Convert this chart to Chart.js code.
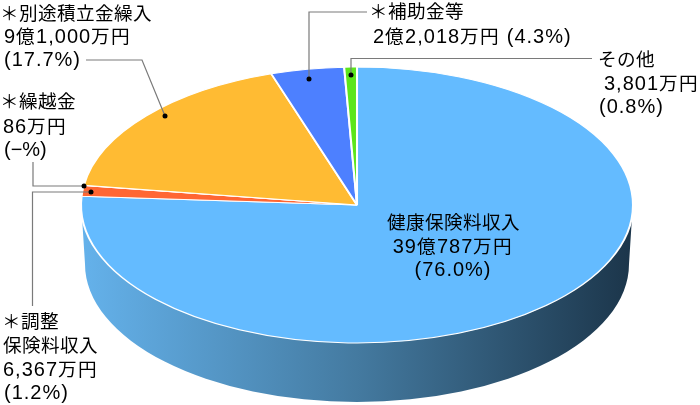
<!DOCTYPE html>
<html lang="ja">
<head>
<meta charset="utf-8">
<title>収入内訳</title>
<style>
  /* CJK fallback scaled down so kana/kanji sit at about 18.6px beside 20px digits */
  @font-face {
    font-family: "JPLabel";
    src: local("Noto Sans CJK JP"), local("Noto Sans CJK JP Regular");
    size-adjust: 93%;
  }
  html, body { margin: 0; padding: 0; background: #fff; }
  canvas { display: block; }
</style>
</head>
<body>
<canvas id="pie" width="700" height="405"></canvas>
<script src="https://cdn.jsdelivr.net/npm/chart.js@4/dist/chart.umd.min.js"></script>
<script>
"use strict";

// amounts in 万円, clockwise from 12 o'clock
const categories = ["健康保険料収入", "調整保険料収入", "繰越金", "別途積立金繰入", "補助金等", "その他"];
const amounts = [390787, 6367, 86, 91000, 22018, 3801];
const sliceColors = ["#64bbff", "#ff6633", "#ffbb33", "#ffbb33", "#4d80ff", "#5ce61a"];

const labelHealth = ["健康保険料収入", "39億787万円", "(76.0%)"];
const labelAdjust = ["＊調整", "保険料収入", "6,367万円", "(1.2%)"];
const labelCarry = ["＊繰越金", "86万円", "(−%)"];
const labelReserve = ["＊別途積立金繰入", "9億1,000万円", "(17.7%)"];
const labelSubsidy = ["＊補助金等", "2億2,018万円 (4.3%)"];
const labelOther = ["その他", "3,801万円", "(0.8%)"];

// projected pie geometry
const TOP = { x: 357, y: 205, rx: 276, ry: 138 };
const BASE = { x: 357, y: 264, rx: 272, ry: 138 };
const FONT = '20px "Liberation Sans", "JPLabel", "Noto Sans CJK JP", sans-serif';

const tiltPlugin = {
  id: "tilt",
  beforeDatasetsDraw(chart) {
    const ctx = chart.ctx;
    const arc = chart.getDatasetMeta(0).data[0];

    // side wall, everything behind the top face gets covered by it
    const grad = ctx.createLinearGradient(BASE.x - BASE.rx, 0, BASE.x + BASE.rx, 0);
    grad.addColorStop(0, "#64b1ea");
    grad.addColorStop(0.5, "#447aa0");
    grad.addColorStop(1, "#1c364b");
    ctx.save();
    ctx.fillStyle = grad;
    ctx.beginPath();
    ctx.moveTo(TOP.x - TOP.rx + 1, TOP.y + 12);
    ctx.lineTo(BASE.x - BASE.rx, BASE.y);
    ctx.ellipse(BASE.x, BASE.y, BASE.rx, BASE.ry, 0, Math.PI, 0, true);
    ctx.lineTo(TOP.x + TOP.rx - 1, TOP.y + 12);
    ctx.closePath();
    ctx.fill();
    ctx.restore();

    // squash the library's round pie into the top face
    ctx.save();
    ctx.translate(TOP.x, TOP.y);
    ctx.scale(TOP.rx / arc.outerRadius, TOP.ry / arc.outerRadius);
    ctx.translate(-arc.x, -arc.y);
  },
  afterDatasetsDraw(chart) {
    const ctx = chart.ctx;
    ctx.restore();

    const leaders = [
      [[86, 60], [142, 60], [165, 116]],
      [[33, 162], [33, 186], [84, 186]],
      [[32.5, 306], [32.5, 192], [91, 192]],
      [[367, 12], [309, 12], [309, 79]],
      [[592, 58.5], [351, 58.5], [351, 75]],
    ];
    ctx.save();
    ctx.strokeStyle = "#7a7a7a";
    ctx.lineWidth = 1.2;
    ctx.fillStyle = "#000";
    leaders.forEach((pts) => {
      ctx.beginPath();
      pts.forEach((p, i) => (i ? ctx.lineTo(p[0], p[1]) : ctx.moveTo(p[0], p[1])));
      ctx.stroke();
      const end = pts[pts.length - 1];
      ctx.beginPath();
      ctx.arc(end[0], end[1], 2.5, 0, Math.PI * 2);
      ctx.fill();
    });

    ctx.font = FONT;
    ctx.fillStyle = "#000";
    ctx.textBaseline = "alphabetic";
    const put = (lines, xs, ys, align) => {
      ctx.textAlign = align || "left";
      lines.forEach((t, i) => {
        // reference digits run wider than Liberation Sans
        ctx.letterSpacing = /\d/.test(t) ? "1px" : "0px";
        ctx.fillText(t, xs[i], ys[i]);
      });
    };
    put(labelReserve, [0, 4, 4], [20, 43, 66]);
    put(labelCarry, [0, 3, 4], [108, 133, 156]);
    put(labelAdjust, [2, 3, 3, 4], [328, 352, 376, 399]);
    put(labelSubsidy, [369, 373], [18, 43]);
    put(labelOther, [598, 604, 599], [66, 90, 113]);
    put(labelHealth, [453, 453, 453], [229, 253, 276], "center");
    ctx.restore();
  },
};

function draw() {
  new Chart(document.getElementById("pie"), {
    type: "pie",
    data: {
      labels: categories,
      datasets: [{
        data: amounts,
        backgroundColor: sliceColors,
        borderColor: "#fff",
        borderWidth: 1.5,
        clip: false,
      }],
    },
    options: {
      responsive: false,
      animation: false,
      plugins: { legend: { display: false }, tooltip: { enabled: false } },
    },
    plugins: [tiltPlugin],
  });
}

document.fonts.load('20px "JPLabel"', "健").then(draw, draw);
</script>
</body>
</html>
